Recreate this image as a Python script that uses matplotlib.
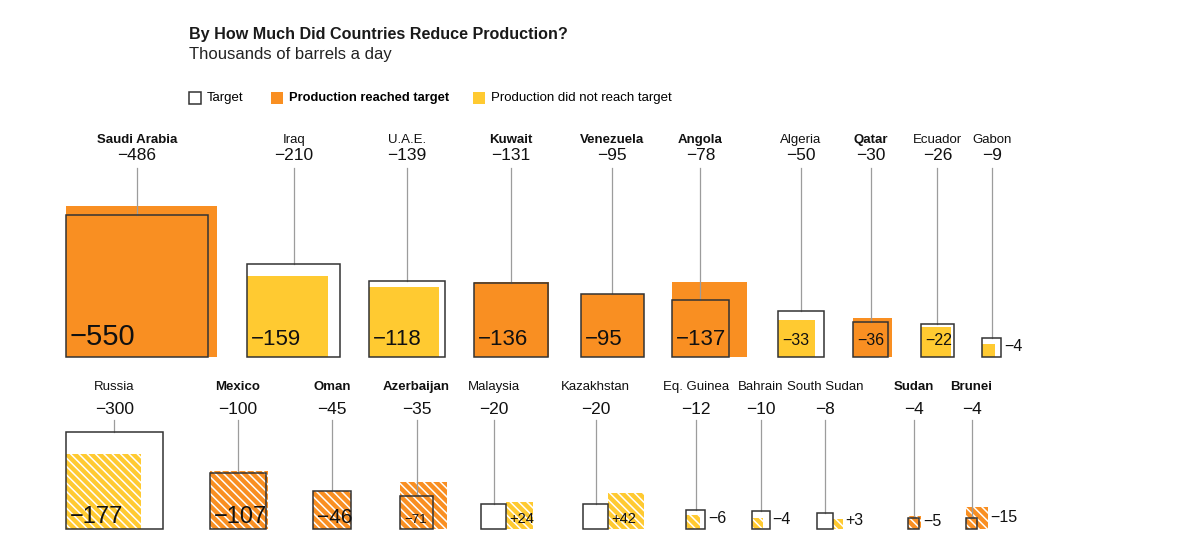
import numpy as np
import matplotlib
matplotlib.use("Agg")
import matplotlib.pyplot as plt
from matplotlib.patches import Rectangle

plt.rcParams['font.family'] = ['Liberation Sans', 'DejaVu Sans']
plt.rcParams['hatch.linewidth'] = 1.1

# data (thousands of barrels a day)
top_countries = ["Saudi Arabia", "Iraq", "U.A.E.", "Kuwait", "Venezuela",
                 "Angola", "Algeria", "Qatar", "Ecuador", "Gabon"]
top_target = [-486, -210, -139, -131, -95, -78, -50, -30, -26, -9]
top_production = [-550, -159, -118, -136, -95, -137, -33, -36, -22, -4]

bottom_countries = ["Russia", "Mexico", "Oman", "Azerbaijan", "Malaysia",
                    "Kazakhstan", "Eq. Guinea", "Bahrain", "South Sudan",
                    "Sudan", "Brunei"]
bottom_target = [-300, -100, -45, -35, -20, -20, -12, -10, -8, -4, -4]
bottom_production = [-177, -107, -46, -71, 24, 42, -6, -4, 3, -5, -15]

# layout (pixels)
top_left = [66, 247, 369, 474, 581, 672, 778, 853, 921, 982]
top_label_size = [21, 16, 16, 16, 16, 16, 11.5, 11.5, 11.5, 11.5]
bottom_left = [66, 210, 313, 400, 481, 583, 686, 752, 817, 908, 966]
bottom_label_size = [17, 17, 15, 9.5, 10.5, 10.5, 11.5, 11.5, 11.5, 11.5, 11.5]

ORANGE = "#F98F22"
YELLOW = "#FFCA31"
EDGE = "#333333"
STEM = "#9c9c9c"

fig = plt.figure(figsize=(12, 5.45), dpi=100)
ax = fig.add_axes([0, 0, 1, 1])
ax.set_xlim(0, 1200)
ax.set_ylim(545, 0)
ax.axis('off')


def side(v, k):
    return k * np.sqrt(abs(v))


def fmt(v):
    return ("+%d" % v) if v > 0 else ("\u2212%d" % abs(v))


def draw_row(names, targets, prods, lefts, sizes, base, k, name_y, value_y,
             stem_top, label_dy, hatched):
    for name, t, p, L, fs in zip(names, targets, prods, lefts, sizes):
        ts = side(t, k)
        ps = side(p, k)
        reached = p <= t
        color = ORANGE if reached else YELLOW
        px = L if p < 0 else L + ts
        cx = L + ts / 2

        ax.add_patch(Rectangle((L, base - ts), ts, ts, facecolor='white',
                               edgecolor='none', zorder=1))
        if hatched:
            ax.add_patch(Rectangle((px, base - ps), ps, ps, facecolor=color,
                                   edgecolor='white', lw=0, hatch='\\\\\\\\',
                                   zorder=2))
        else:
            ax.add_patch(Rectangle((px, base - ps), ps, ps, facecolor=color,
                                   edgecolor='none', zorder=2))
        ax.add_patch(Rectangle((L, base - ts), ts, ts, fill=False,
                               edgecolor=EDGE, lw=1.1, zorder=4))
        ax.plot([cx, cx], [stem_top, base - ts], color=STEM, lw=0.9, zorder=3)

        ax.text(cx, name_y, name, ha='center', va='center', fontsize=9.5,
                fontweight='bold' if reached else 'normal', color='#111111')
        ax.text(cx, value_y, fmt(t), ha='center', va='center', fontsize=12.5,
                color='#111111')

        # label of production
        if p > 0:
            inside = ps > 20
            lx = px + 3
        else:
            inside = max(ts, ps) > 25
            lx = L + 4
        if inside:
            ax.text(lx, base - label_dy, fmt(p), ha='left', va='baseline',
                    fontsize=fs, color='#111111', zorder=5)
        else:
            right = max(L + ts, px + ps)
            ax.text(right + 3, base - max(ts, ps) / 2 - 1, fmt(p), ha='left',
                    va='center', fontsize=fs, color='#111111', zorder=5)


draw_row(top_countries, top_target, top_production, top_left, top_label_size,
         base=357, k=6.44, name_y=140, value_y=156, stem_top=168,
         label_dy=12, hatched=False)
draw_row(bottom_countries, bottom_target, bottom_production, bottom_left,
         bottom_label_size, base=529, k=5.6, name_y=387, value_y=409,
         stem_top=420, label_dy=6, hatched=True)

# title
ax.text(189, 35, "By How Much Did Countries Reduce Production?", ha='left',
        va='center', fontsize=11.6, fontweight='bold', color='#1a1a1a')
ax.text(189, 54, "Thousands of barrels a day", ha='left', va='center',
        fontsize=12, color='#222222')

# legend
ax.add_patch(Rectangle((189, 92), 12, 12, fill=False, edgecolor=EDGE, lw=1.1))
ax.text(207, 98.5, "Target", ha='left', va='center', fontsize=9.5)
ax.add_patch(Rectangle((271, 92), 12, 12, facecolor=ORANGE, edgecolor='none'))
ax.text(289, 98.5, "Production reached target", ha='left', va='center',
        fontsize=9.3, fontweight='bold')
ax.add_patch(Rectangle((473, 92), 12, 12, facecolor=YELLOW, edgecolor='none'))
ax.text(491, 98.5, "Production did not reach target", ha='left', va='center',
        fontsize=9.5)

fig.savefig("out.png", dpi=100)
